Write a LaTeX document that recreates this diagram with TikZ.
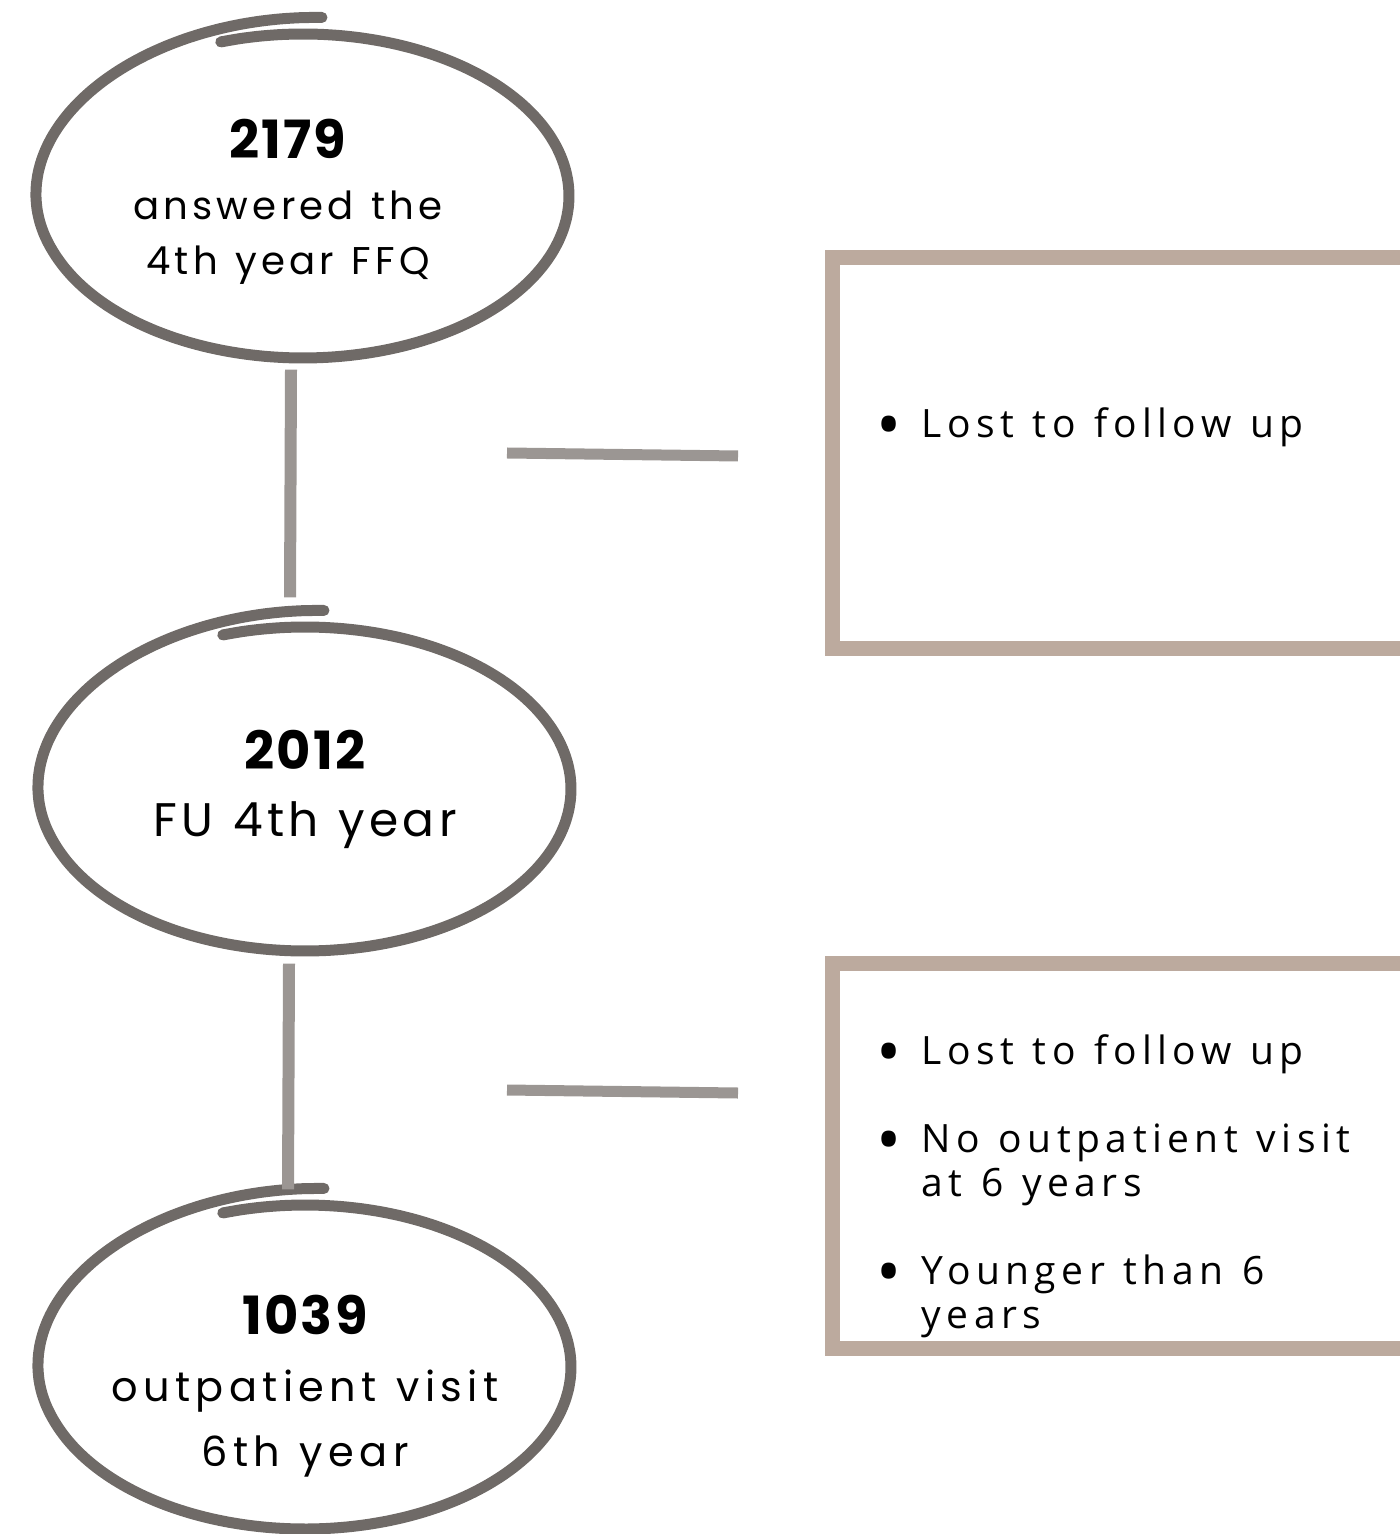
\documentclass[tikz,border=0pt]{standalone}
\usepackage{fontspec}
\usepackage{tikz}
\usetikzlibrary{shapes.geometric}
\newfontfamily\numfont[LetterSpace=4]{Poppins}
\newfontfamily\listfont[LetterSpace=14,WordSpace=1.2]{Open Sans}
\definecolor{ringgray}{RGB}{111,106,103}
\definecolor{linkgray}{RGB}{155,150,147}
\definecolor{boxtaupe}{RGB}{188,170,158}
% hand drawn loop round a node, a bit wider where it starts
\newcommand{\ring}[2][]{\draw[ring,shift={(#2.center)},#1] plot[domain=86:468,samples=90,smooth,variable=\t] ({(2.66+0.06*max(0,(200-\t)/114))*cos(\t)},{(1.62+0.17*max(0,(200-\t)/114))*sin(\t)});}
\newcommand{\bigbullet}{\makebox[0.45cm][l]{\raisebox{-0.11cm}{\fontsize{19}{12}\selectfont\textbullet}}}

\begin{document}
\begin{tikzpicture}[x=1cm,y=1cm]
		\tikzstyle{every node}=[inner sep=0pt]
		\tikzstyle{ringnode}=[ellipse, minimum width=5.3cm, minimum height=3.3cm, align=center, text=black]
		\tikzstyle{ring}=[draw=ringgray, line width=0.11cm, line cap=round]
		\tikzstyle{link}=[draw=linkgray, line width=0.12cm]
		\tikzstyle{brush}=[draw=linkgray, line width=0.11cm]
		\tikzstyle{framebox}=[draw=boxtaupe, line width=0.15cm, minimum width=5.78cm]
		\tikzstyle{listtext}=[align=left, anchor=north west, font=\listfont\fontsize{11.1}{12.5}\selectfont]
		\useasboundingbox (0,0) rectangle (13.99,-15.34);

		\node[ringnode, font={\fontspec[LetterSpace=11,WordSpace=1.2]{Poppins}\fontsize{11}{15.6}\selectfont}] (e1) at (2.88,-2.02) {{\numfont\bfseries\fontsize{15}{15.6}\selectfont 2179}\\[1.8pt]answered the\\4th year FFQ};
		\node[ringnode, font={\fontspec[LetterSpace=9,WordSpace=1.2]{Poppins}\fontsize{13.4}{19.1}\selectfont}] (e2) at (3.05,-7.89) {{\numfont\bfseries\fontsize{15}{19.1}\selectfont 2012}\\FU 4th year};
		\node[ringnode, font={\fontspec[LetterSpace=13,WordSpace=1.2]{Poppins}\fontsize{11.8}{18.5}\selectfont}] (e3) at (3.05,-13.86) {{\numfont\bfseries\fontsize{15}{18.5}\selectfont 1039}\\[0.6pt]outpatient visit\\6th year};
		\ring[xshift=0.15cm,yshift=0.06cm]{e1}
		\ring{e2}
		\ring[yshift=0.19cm]{e3}

		\draw[link] ([xshift=0.03cm,yshift=-0.02cm]e1.south) -- ([xshift=-0.15cm,yshift=0.26cm]e2.north);
		\draw[link] ([xshift=-0.16cm,yshift=-0.09cm]e2.south) -- ([xshift=-0.17cm,yshift=0.31cm]e3.north);

		\node[framebox, minimum height=3.9cm] (b1) at (11.21,-4.53) {};
		\node[framebox, minimum height=3.85cm] (b2) at (11.21,-11.555) {};

		\coordinate (s1a) at (5.07,-4.53);
		\coordinate (s1b) at (7.38,-4.56);
		\coordinate (s2a) at (5.07,-10.90);
		\coordinate (s2b) at (7.38,-10.93);
		\draw[brush] (s1a) -- (s1b);
		\draw[brush] (s2a) -- (s2b);

		\node[listtext] (l1) at (8.76,-4.07) {\bigbullet Lost to follow up};
		\node[listtext] (l2) at (8.76,-10.34) {\bigbullet Lost to follow up\\[12.5pt]
			\bigbullet No outpatient visit\\
			\hspace*{0.45cm}at 6 years\\[12.5pt]
			\bigbullet Younger than 6\\
			\hspace*{0.45cm}years};
	\end{tikzpicture}
\end{document}
